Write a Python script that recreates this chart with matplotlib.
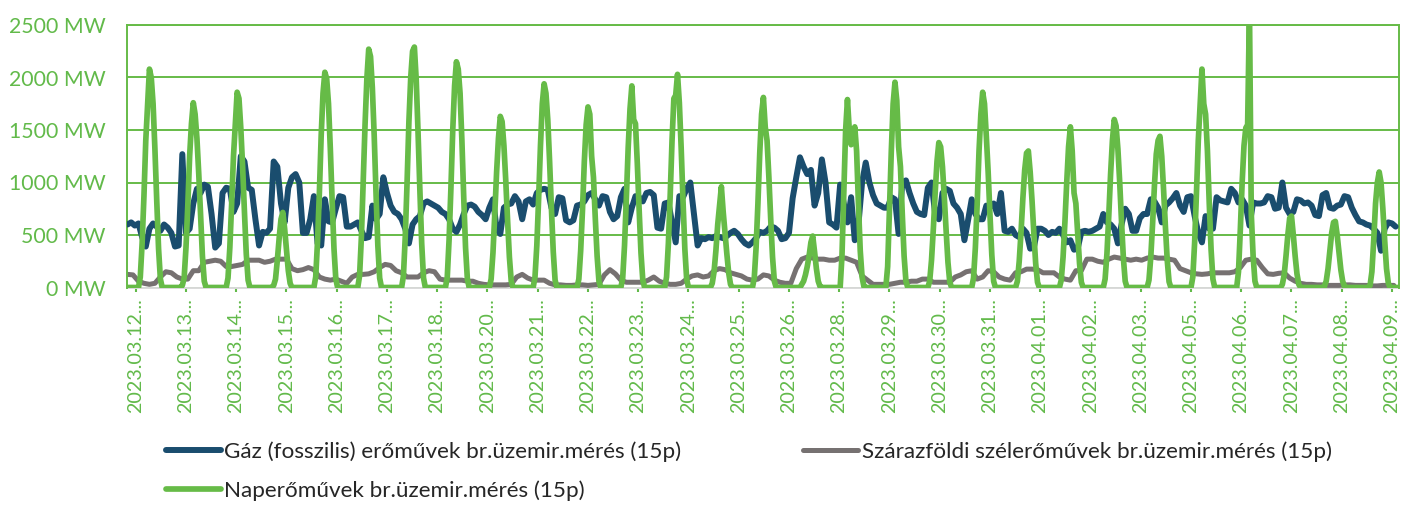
import numpy as np
import matplotlib.pyplot as plt

# MW values, one row per day (2023.03.12 ... 2023.04.09)
# gas: every 2 hours (00, 02, ... 22)
gas_mw = [
    [600, 620, 590, 610, 480, 390, 560, 610, 580, 540, 600, 570],
    [520, 390, 400, 1270, 520, 560, 800, 940, 900, 980, 960, 700],
    [380, 420, 900, 950, 940, 720, 800, 1250, 1200, 950, 930, 650],
    [400, 530, 520, 560, 1200, 1150, 800, 620, 950, 1050, 1080, 1000],
    [520, 520, 650, 870, 420, 400, 840, 630, 620, 750, 870, 860],
    [580, 580, 600, 620, 540, 470, 480, 780, 650, 700, 1050, 900],
    [780, 720, 700, 650, 560, 420, 600, 650, 680, 800, 820, 800],
    [780, 760, 720, 700, 650, 560, 530, 600, 700, 780, 790, 770],
    [720, 690, 650, 760, 840, 560, 510, 760, 790, 800, 870, 820],
    [650, 820, 840, 790, 900, 930, 940, 930, 760, 700, 860, 850],
    [640, 620, 640, 780, 790, 820, 880, 900, 840, 780, 870, 860],
    [720, 650, 680, 860, 940, 620, 760, 870, 860, 820, 900, 910],
    [880, 570, 560, 800, 810, 620, 430, 870, 860, 940, 1000, 700],
    [400, 470, 460, 480, 470, 490, 480, 470, 490, 520, 540, 510],
    [460, 420, 400, 430, 470, 530, 520, 540, 580, 570, 540, 460],
    [470, 520, 850, 1050, 1240, 1150, 1080, 1120, 780, 900, 1220, 1000],
    [620, 600, 570, 980, 800, 620, 860, 450, 600, 1000, 1190, 1000],
    [880, 800, 780, 760, 760, 860, 840, 510, 1000, 1020, 900, 800],
    [720, 700, 690, 950, 1000, 700, 650, 900, 940, 920, 800, 760],
    [700, 450, 640, 840, 700, 650, 650, 780, 770, 800, 700, 900],
    [540, 530, 560, 500, 480, 560, 520, 370, 380, 560, 560, 540],
    [500, 530, 520, 560, 500, 430, 450, 360, 370, 530, 540, 530],
    [540, 560, 580, 700, 620, 600, 560, 420, 600, 750, 700, 540],
    [540, 660, 700, 700, 840, 820, 760, 620, 780, 810, 850, 900],
    [780, 720, 860, 870, 680, 520, 430, 680, 560, 560, 860, 830],
    [820, 810, 940, 900, 810, 840, 780, 590, 810, 800, 800, 810],
    [870, 860, 750, 760, 1000, 760, 700, 720, 840, 830, 800, 810],
    [780, 690, 680, 880, 900, 760, 750, 780, 790, 870, 860, 760],
    [690, 630, 620, 600, 590, 560, 520, 350, 560, 620, 610, 580],
]

# onshore wind: every 3 hours (00, 03, ... 21)
wind_mw = [
    [125, 120, 60, 40, 30, 40, 100, 150],
    [140, 100, 80, 80, 160, 160, 240, 250],
    [260, 250, 200, 200, 210, 220, 260, 260],
    [260, 240, 250, 270, 270, 270, 180, 160],
    [170, 190, 170, 100, 80, 70, 80, 60],
    [40, 100, 125, 125, 130, 150, 190, 220],
    [210, 160, 140, 100, 100, 100, 140, 160],
    [150, 80, 70, 70, 70, 70, 60, 60],
    [40, 30, 25, 25, 25, 25, 30, 100],
    [125, 90, 70, 70, 70, 40, 25, 25],
    [20, 20, 25, 25, 20, 25, 30, 120],
    [170, 130, 70, 50, 50, 50, 50, 70],
    [100, 60, 40, 30, 30, 40, 80, 110],
    [120, 100, 110, 160, 180, 170, 140, 125],
    [110, 80, 70, 80, 120, 110, 70, 50],
    [40, 40, 180, 270, 290, 280, 270, 270],
    [260, 260, 280, 280, 260, 240, 110, 70],
    [30, 30, 30, 30, 40, 50, 50, 60],
    [60, 80, 80, 50, 50, 50, 50, 100],
    [120, 150, 160, 80, 100, 160, 150, 100],
    [80, 70, 140, 150, 175, 175, 170, 140],
    [140, 140, 100, 80, 70, 160, 160, 270],
    [270, 250, 240, 270, 290, 280, 270, 260],
    [270, 260, 280, 290, 280, 280, 270, 260],
    [180, 160, 140, 130, 125, 130, 140, 140],
    [140, 140, 150, 190, 260, 270, 260, 190],
    [130, 125, 135, 140, 90, 60, 40, 30],
    [30, 25, 25, 20, 20, 20, 25, 25],
    [20, 20, 20, 15, 15, 20, 20, 20],
]

# solar: hourly (00 ... 23)
solar_mw = [
    [0, 0, 0, 0, 0, 0, 0, 100, 420, 870, 1400, 1750, 2080, 2000, 1750, 1320, 830, 370, 80, 0, 0, 0, 0, 0],
    [0, 0, 0, 0, 0, 0, 20, 90, 380, 780, 1250, 1560, 1760, 1650, 1420, 1080, 680, 300, 60, 0, 0, 0, 0, 0],
    [0, 0, 0, 0, 0, 0, 0, 90, 380, 800, 1250, 1560, 1860, 1800, 1520, 1150, 720, 320, 70, 0, 0, 0, 0, 0],
    [0, 0, 0, 0, 0, 0, 0, 0, 20, 80, 260, 470, 650, 715, 560, 360, 160, 40, 0, 0, 0, 0, 0, 0],
    [0, 0, 0, 0, 0, 0, 0, 100, 440, 900, 1450, 1850, 2050, 1990, 1750, 1320, 820, 370, 80, 0, 0, 0, 0, 0],
    [0, 0, 0, 0, 0, 0, 0, 110, 480, 1000, 1550, 1990, 2270, 2200, 1900, 1450, 900, 400, 90, 0, 0, 0, 0, 0],
    [0, 0, 0, 0, 0, 0, 0, 110, 480, 1000, 1580, 2000, 2250, 2290, 1980, 1480, 930, 420, 90, 0, 0, 0, 0, 0],
    [0, 0, 0, 0, 0, 0, 0, 100, 460, 950, 1500, 1920, 2150, 2080, 1850, 1400, 860, 380, 80, 0, 0, 0, 0, 0],
    [0, 0, 0, 0, 0, 0, 0, 80, 330, 700, 1100, 1420, 1630, 1580, 1350, 1020, 640, 290, 60, 0, 0, 0, 0, 0],
    [0, 0, 0, 0, 0, 0, 0, 100, 400, 850, 1350, 1750, 1940, 1850, 1600, 1200, 750, 340, 70, 0, 0, 0, 0, 0],
    [0, 0, 0, 0, 0, 0, 0, 80, 350, 740, 1200, 1550, 1720, 1650, 1250, 1050, 660, 300, 60, 0, 0, 0, 0, 0],
    [0, 0, 0, 0, 0, 0, 0, 90, 400, 850, 1330, 1700, 1920, 1600, 1560, 1180, 740, 330, 70, 0, 0, 0, 0, 0],
    [0, 0, 0, 0, 0, 0, 0, 100, 420, 880, 1400, 1800, 1830, 2030, 1760, 1330, 830, 370, 80, 0, 0, 0, 0, 0],
    [0, 0, 0, 0, 0, 0, 0, 0, 40, 150, 350, 600, 780, 960, 720, 520, 320, 140, 30, 0, 0, 0, 0, 0],
    [0, 0, 0, 0, 0, 0, 0, 90, 380, 800, 1280, 1650, 1810, 1530, 1400, 1050, 650, 290, 60, 0, 0, 0, 0, 0],
    [0, 0, 0, 0, 0, 0, 0, 0, 0, 30, 60, 120, 200, 300, 430, 490, 340, 180, 60, 10, 0, 0, 0, 0],
    [0, 0, 0, 0, 0, 0, 0, 300, 900, 1500, 1790, 1500, 1360, 1450, 1530, 1300, 800, 350, 100, 10, 0, 0, 0, 0],
    [0, 0, 0, 0, 0, 0, 0, 0, 200, 750, 1300, 1750, 1955, 1780, 1340, 1150, 700, 300, 60, 0, 0, 0, 0, 0],
    [0, 0, 0, 0, 0, 0, 0, 60, 260, 560, 900, 1200, 1380, 1340, 1150, 860, 540, 240, 50, 0, 0, 0, 0, 0],
    [0, 0, 0, 0, 0, 0, 0, 90, 380, 800, 1300, 1650, 1860, 1750, 1440, 1100, 690, 310, 60, 0, 0, 0, 0, 0],
    [0, 0, 0, 0, 0, 0, 0, 60, 250, 530, 850, 1120, 1280, 1300, 1100, 830, 520, 230, 50, 0, 0, 0, 0, 0],
    [0, 0, 0, 0, 0, 0, 0, 70, 290, 620, 1000, 1340, 1530, 1300, 900, 800, 520, 230, 50, 0, 0, 0, 0, 0],
    [0, 0, 0, 0, 0, 0, 0, 80, 320, 680, 1080, 1400, 1600, 1540, 1320, 1000, 620, 280, 60, 0, 0, 0, 0, 0],
    [0, 0, 0, 0, 0, 0, 0, 70, 290, 610, 970, 1270, 1400, 1440, 1250, 930, 580, 260, 55, 0, 0, 0, 0, 0],
    [0, 0, 0, 0, 0, 0, 0, 100, 430, 900, 1400, 1750, 2080, 1750, 1650, 1300, 800, 360, 80, 0, 0, 0, 0, 0],
    [0, 0, 0, 0, 0, 0, 0, 0, 150, 550, 1000, 1350, 1520, 1550, 2650, 700, 300, 60, 0, 0, 0, 0, 0, 0],
    [0, 0, 0, 0, 0, 0, 0, 0, 30, 120, 300, 500, 660, 680, 500, 300, 130, 30, 0, 0, 0, 0, 0, 0],
    [0, 0, 0, 0, 0, 0, 0, 10, 60, 180, 350, 520, 620, 630, 500, 330, 170, 60, 10, 0, 0, 0, 0, 0],
    [0, 0, 0, 0, 0, 0, 0, 0, 20, 150, 450, 800, 1000, 1100, 1000, 750, 450, 180, 40, 0, 0, 0, 0, 0],
]

tick_labels = ['2023.03.12', '2023.03.13', '2023.03.14', '2023.03.15', '2023.03.16',
               '2023.03.17', '2023.03.18', '2023.03.20', '2023.03.21', '2023.03.22',
               '2023.03.23', '2023.03.24', '2023.03.25', '2023.03.26', '2023.03.28',
               '2023.03.29', '2023.03.30', '2023.03.31', '2023.04.01', '2023.04.02',
               '2023.04.03', '2023.04.05', '2023.04.06', '2023.04.07', '2023.04.08',
               '2023.04.09']

series_names = ['Gáz (fosszilis) erőművek br.üzemir.mérés (15p)',
                'Szárazföldi szélerőművek br.üzemir.mérés (15p)',
                'Naperőművek br.üzemir.mérés (15p)']

GAS_C = '#1a4d6e'
WIND_C = '#767171'
SUN_C = '#66bb47'
TXT_G = '#62ba4a'

plt.rcParams['font.family'] = ['Lato', 'DejaVu Sans']

gas = np.array(gas_mw).ravel()
wind = np.array(wind_mw).ravel()
solar = np.array(solar_mw).ravel()
t_gas = np.arange(gas.size) * 2.0     # hours from 03.12 00:00
t_wind = np.arange(wind.size) * 3.0
t_solar = np.arange(solar.size) * 1.0

fig = plt.figure(figsize=(14.01, 5.07), dpi=100)
ax = fig.add_axes([127.5 / 1401, 1 - 287.5 / 507, (1399.3 - 127.5) / 1401, (287.5 - 25) / 507])

kw = dict(solid_joinstyle='round', solid_capstyle='round')
l_gas, = ax.plot(t_gas, gas, color=GAS_C, lw=4.3, label=series_names[0], zorder=3, **kw)
l_wind, = ax.plot(t_wind, wind, color=WIND_C, lw=3.6, label=series_names[1], zorder=2, **kw)
l_sun, = ax.plot(t_solar, solar, color=SUN_C, lw=4.1, label=series_names[2], zorder=4, **kw)

ax.set_xlim(0, 696)
ax.set_ylim(0, 2500)

yt = np.arange(0, 2501, 500)
ax.set_yticks(yt)
ax.set_yticklabels([f'{v} MW' for v in yt])
ax.tick_params(axis='y', length=0, pad=16, labelsize=15.3, labelcolor=TXT_G)

# category labels every 110 quarter-hours (27.5 h)
xt = 4.4 + np.arange(len(tick_labels)) * 27.5
ax.set_xticks(xt)
ax.set_xticklabels([s + '...' for s in tick_labels], rotation=90)
ax.tick_params(axis='x', length=3, width=1.5, color=TXT_G, pad=5,
               labelsize=14.2, labelcolor=TXT_G)

ax.grid(axis='y', color=SUN_C, lw=1.4)
ax.set_axisbelow(True)
for side in ['left', 'right', 'top']:
    ax.spines[side].set_color(SUN_C)
    ax.spines[side].set_linewidth(1.4)
ax.spines['bottom'].set_color('#d9d9d9')
ax.spines['bottom'].set_linewidth(1.4)
ax.spines['bottom'].set_zorder(1)

fig.legend(handles=[l_gas, l_sun, l_wind], loc='upper left',
           bbox_to_anchor=(166 / 1401, 1 - 441 / 507), ncol=2, frameon=False,
           fontsize=16.2, handlelength=2.45, handletextpad=0.15, columnspacing=5.4,
           labelspacing=0.85, borderpad=0, borderaxespad=0, labelcolor='#262626')

fig.savefig('out.png', dpi=100)
